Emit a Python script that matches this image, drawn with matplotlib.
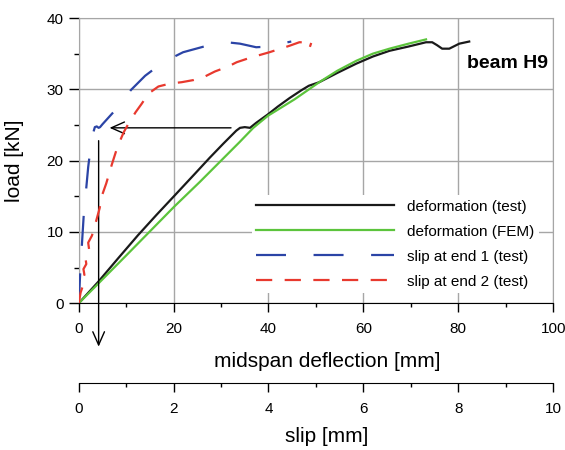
import matplotlib
matplotlib.use("Agg")
import matplotlib.pyplot as plt
from matplotlib.ticker import MultipleLocator

plt.rcParams['font.family'] = ['Liberation Sans', 'DejaVu Sans']

# --- データ ---
# たわみ（試験）: midspan deflection [mm], load [kN]
defl_test_x = [0, 4.1, 8.3, 12.5, 16.4, 20.2, 24.4, 27.6, 30.5, 33.2, 34.0, 35.0, 36.1, 37.4,
               39.9, 42.0, 44.5, 47.0, 48.5, 50.7, 54.5, 58.5, 62.0, 65.5, 69.5, 73.2, 74.5,
               75.5, 76.6, 78.1, 80.2, 82.3]
defl_test_load = [0, 3.0, 6.3, 9.55, 12.4, 15.1, 18.1, 20.4, 22.4, 24.2, 24.6, 24.7, 24.6, 25.3,
                  26.5, 27.6, 28.8, 29.9, 30.5, 31.0, 32.3, 33.6, 34.6, 35.4, 36.0, 36.6, 36.6,
                  36.2, 35.7, 35.7, 36.4, 36.7]
# たわみ（FEM）
defl_fem_x = [0, 10.0, 20.2, 25.5, 30.0, 33.9, 36.8, 39.9, 45.5, 50.7, 54.5, 58.5, 62.0,
              65.5, 69.5, 73.2]
defl_fem_load = [0, 6.7, 13.6, 17.0, 20.0, 22.6, 24.6, 26.3, 28.6, 31.0, 32.6, 34.0, 35.0,
                 35.7, 36.4, 37.0]
# 端部1のすべり（試験）: slip [mm], load [kN]
slip1_x = [0, 0.03, 0.07, 0.11, 0.15, 0.20, 0.25, 0.28, 0.31, 0.34, 0.38, 0.42, 0.45, 0.50,
           0.65, 0.80, 1.10, 1.40, 1.78, 2.20, 2.64, 3.12, 3.40, 3.74, 4.02, 4.25, 4.48]
slip1_load = [0, 4.0, 8.5, 12.8, 15.5, 19.1, 21.8, 22.8, 24.0, 24.7, 24.8, 24.6, 24.7, 25.1,
              26.2, 27.3, 29.9, 31.9, 33.8, 35.2, 36.0, 36.6, 36.4, 35.9, 36.0, 36.4, 36.7]
# 端部2のすべり（試験）
slip2_x = [0, 0.04, 0.09, 0.07, 0.12, 0.10, 0.16, 0.14, 0.22, 0.20, 0.28, 0.32, 0.37, 0.44,
           0.49, 0.58, 0.70, 0.82, 0.95, 1.05, 1.20, 1.33, 1.47, 1.68, 1.92, 2.17, 2.42,
           2.66, 2.87, 3.15, 3.33, 3.60, 4.02, 4.44, 4.65, 4.72, 4.79, 4.86, 4.90]
slip2_load = [0, 1.5, 2.5, 3.2, 4.0, 4.8, 5.5, 6.5, 7.5, 8.5, 9.5, 10.5, 11.6, 13.3,
              15.1, 16.8, 19.5, 22.0, 24.0, 25.2, 26.8, 28.0, 29.4, 30.4, 30.8, 31.0, 31.3,
              31.8, 32.5, 33.2, 33.8, 34.4, 35.2, 36.1, 36.6, 36.6, 36.4, 35.7, 36.5]

labels = ["deformation (test)", "deformation (FEM)", "slip at end 1 (test)", "slip at end 2 (test)"]
grid_col = "#a6a6a6"

# --- 図と軸の作成 ---
fig = plt.figure(figsize=(5.65, 4.5), dpi=100)
ax = fig.add_axes([0.1393, 0.326, 0.8398, 0.634])
ax2 = ax.twiny()  # すべり用の下側第2軸

# たわみ曲線
l1, = ax.plot(defl_test_x, defl_test_load, color="#1a1a1a", lw=1.6, label=labels[0])
l2, = ax.plot(defl_fem_x, defl_fem_load, color="#5cc43c", lw=1.6, label=labels[1])
# すべり曲線
l3, = ax2.plot(slip1_x, slip1_load, color="#2b44a6", lw=1.6, dashes=(13.5, 12.4), label=labels[2])
l4, = ax2.plot(slip2_x, slip2_load, color="#e8392e", lw=1.6, dashes=(7.3, 5.6), label=labels[3])

# --- 軸の設定 ---
ax.set_xlim(0, 100)
ax.set_ylim(0, 40)
ax2.set_xlim(0, 10)
ax.xaxis.set_major_locator(MultipleLocator(20))
ax.xaxis.set_minor_locator(MultipleLocator(10))
ax.yaxis.set_major_locator(MultipleLocator(10))
ax.yaxis.set_minor_locator(MultipleLocator(5))
ax2.xaxis.set_major_locator(MultipleLocator(2))
ax2.xaxis.set_minor_locator(MultipleLocator(1))

ax.grid(True, which="major", color=grid_col, lw=1)
ax.set_axisbelow(True)
for s in ["top", "right", "left"]:
    ax.spines[s].set_color(grid_col)
ax.spines["bottom"].set_color("black")

ax.tick_params(axis="x", which="major", length=6.5, width=1, labelsize=11, pad=7)
ax.tick_params(axis="x", which="minor", length=3, width=1)
ax.tick_params(axis="y", which="major", length=7, width=1, labelsize=11, pad=4)
ax.tick_params(axis="y", which="minor", length=3.5, width=1)

# 第2軸を下に移動
ax2.xaxis.set_ticks_position("bottom")
ax2.spines["bottom"].set_position(("axes", -0.2805))
for s in ["top", "right", "left"]:
    ax2.spines[s].set_visible(False)
ax2.tick_params(axis="x", which="major", length=6.5, width=1, labelsize=11, pad=7)
ax2.tick_params(axis="x", which="minor", length=3, width=1)

# --- ラベル ---
fig.text(15 / 565, 1 - 160.7 / 450, "load [kN]", rotation=90, ha="center", va="center", fontsize=15)
fig.text(327 / 565, 1 - 361.7 / 450, "midspan deflection [mm]", ha="center", va="center", fontsize=15)
fig.text(327 / 565, 1 - 436.7 / 450, "slip [mm]", ha="center", va="center", fontsize=15)
ax.text(0.9037, 0.841, "beam H9", transform=ax.transAxes, ha="center", va="center",
        fontsize=14, fontweight="bold")

# --- 矢印（たわみ→すべり） ---
arrow = dict(arrowstyle="->,head_length=0.95,head_width=0.42", color="black", lw=1,
             shrinkA=0, shrinkB=0, mutation_scale=10)
ax.annotate("", xy=(6.5, 24.6), xytext=(32.1, 24.6), arrowprops=arrow)
ax.annotate("", xy=(4.2, -6.08), xytext=(4.2, 22.8), arrowprops=arrow, annotation_clip=False)

# --- 凡例 ---
leg = ax2.legend(handles=[l1, l2, l3, l4], loc="upper left", bbox_to_anchor=(0.3646, 0.3796),
                 borderaxespad=0, fontsize=11, handlelength=9.0, handletextpad=0.87,
                 labelspacing=0.72, borderpad=0.3, fancybox=False, framealpha=1,
                 edgecolor="none", facecolor="white")

fig.savefig("out.png", dpi=100)
